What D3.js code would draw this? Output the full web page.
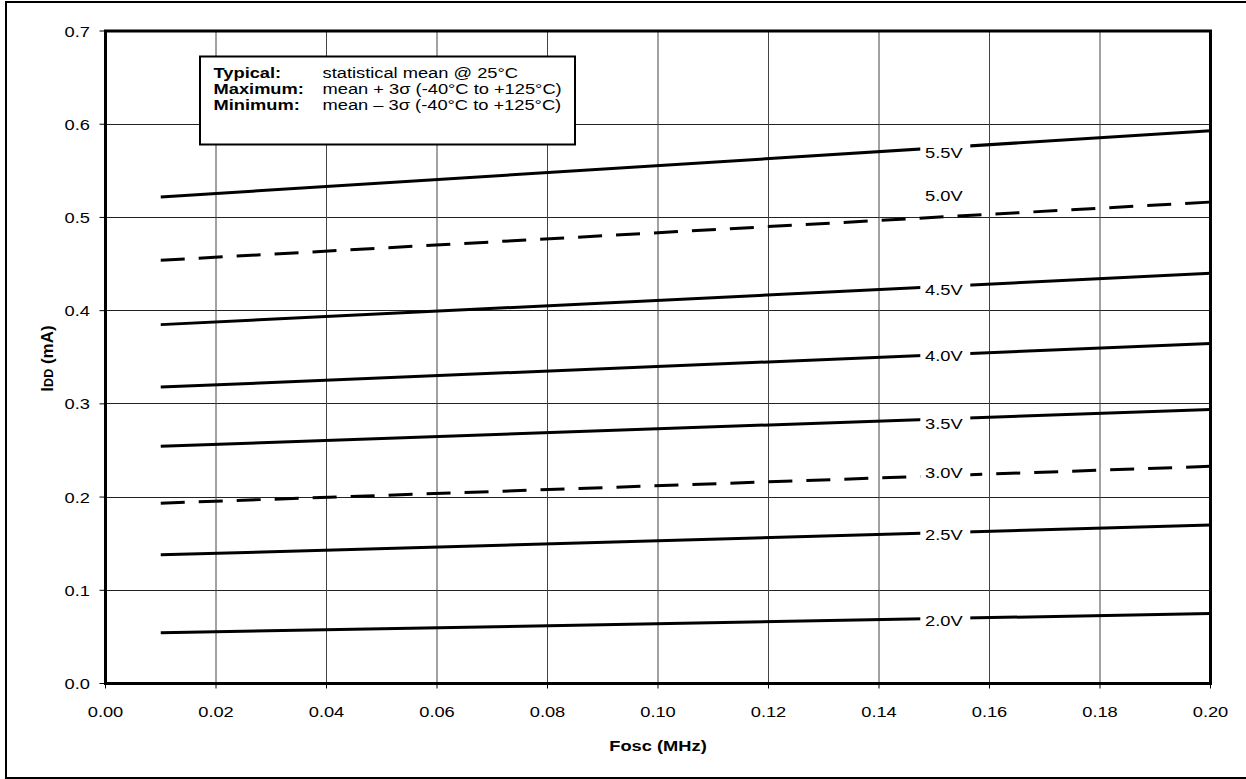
<!DOCTYPE html>
<html>
<head>
<meta charset="utf-8">
<script src="https://cdn.jsdelivr.net/npm/d3@7"></script>
<style>
  html, body { margin: 0; padding: 0; background: #fff; }
  svg { display: block; }
  text { font-family: "Liberation Sans", Arial, Helvetica, sans-serif; fill: #000; }
</style>
</head>
<body>
<svg id="chart" width="1246" height="779"></svg>
<script>
// ---- data ----
const voltages = ["5.5V", "5.0V", "4.5V", "4.0V", "3.5V", "3.0V", "2.5V", "2.0V"];
const freqs = [0.01, 0.20];                       // MHz
const idd55 = [0.522, 0.593];
const idd50 = [0.454, 0.5165];
const idd45 = [0.385, 0.440];
const idd40 = [0.318, 0.3647];
const idd35 = [0.2545, 0.294];
const idd30 = [0.1935, 0.233];
const idd25 = [0.138, 0.170];
const idd20 = [0.0544, 0.075];
const dashedSeries = ["5.0V", "3.0V"];
const xTicks = [0.00, 0.02, 0.04, 0.06, 0.08, 0.10, 0.12, 0.14, 0.16, 0.18, 0.20];
const yTicks = [0.0, 0.1, 0.2, 0.3, 0.4, 0.5, 0.6, 0.7];
const legendRows = [
  ["Typical:", "statistical mean @ 25\u00B0C"],
  ["Maximum:", "mean + 3\u03C3 (-40\u00B0C to +125\u00B0C)"],
  ["Minimum:", "mean \u2013 3\u03C3 (-40\u00B0C to +125\u00B0C)"]
];
const xTitle = "Fosc (MHz)";
const labelAtX = 0.152;

// ---- layout (not data) ----
const labelDy = { "5.5V": 5, "5.0V": -21, "4.5V": 3, "4.0V": 1, "3.5V": 5, "3.0V": -3, "2.5V": 2, "2.0V": 2 };
const SX = 1.18;  // horizontal stretch of text
const FS = 15.5;

const seriesValues = [idd55, idd50, idd45, idd40, idd35, idd30, idd25, idd20];
const series = voltages.map((v, i) => ({
  name: v,
  dashed: dashedSeries.includes(v),
  points: freqs.map((f, j) => ({ x: f, y: seriesValues[i][j] }))
}));

const svg = d3.select("#chart");
const L = 105.5, R = 1210.5, T = 31, B = 683.5;
const x = d3.scaleLinear().domain([0, 0.2]).range([L, R]);
const y = d3.scaleLinear().domain([0, 0.7]).range([B, T]);

// outer frame
svg.append("rect").attr("x", 6).attr("y", 2).attr("width", 1260).attr("height", 776)
  .attr("fill", "none").attr("stroke", "#000").attr("stroke-width", 2);

function stext(g, px, py, str, anchor, weight, size) {
  return g.append("text")
    .attr("transform", `translate(${px},${py}) scale(${SX},1)`)
    .attr("text-anchor", anchor || "start")
    .attr("font-weight", weight || "normal")
    .attr("font-size", size || FS)
    .text(str);
}

// gridlines
const grid = svg.append("g");
yTicks.filter(t => t > 0 && t < 0.7).forEach(t => {
  grid.append("line").attr("x1", L).attr("x2", R).attr("y1", y(t)).attr("y2", y(t))
    .attr("stroke", "#222").attr("stroke-width", 1).attr("shape-rendering", "crispEdges");
});
xTicks.filter(t => t > 0 && t < 0.2).forEach(t => {
  grid.append("line").attr("x1", x(t)).attr("x2", x(t)).attr("y1", T).attr("y2", B)
    .attr("stroke", "#444").attr("stroke-width", 1);
});

// ticks and tick labels
const axes = svg.append("g");
yTicks.forEach(t => {
  axes.append("line").attr("x1", L - 6).attr("x2", L).attr("y1", y(t)).attr("y2", y(t))
    .attr("stroke", "#000").attr("stroke-width", 1);
  stext(axes, 90, y(t) + 5.5, d3.format(".1f")(t), "end");
});
xTicks.forEach(t => {
  axes.append("line").attr("x1", x(t)).attr("x2", x(t)).attr("y1", B).attr("y2", B + 5)
    .attr("stroke", "#000").attr("stroke-width", 1);
  stext(axes, x(t), 716.5, d3.format(".2f")(t), "middle");
});

// lines
const line = d3.line().x(d => x(d.x)).y(d => y(d.y));
const lg = svg.append("g");
series.forEach(s => {
  lg.append("path").attr("d", line(s.points)).attr("fill", "none")
    .attr("stroke", "#000").attr("stroke-width", 3)
    .attr("stroke-dasharray", s.dashed ? "24,14" : null);
});

// series labels
const labG = svg.append("g");
series.forEach(s => {
  const p0 = s.points[0], p1 = s.points[s.points.length - 1];
  const v = p0.y + (p1.y - p0.y) * (labelAtX - p0.x) / (p1.x - p0.x);
  const cx = x(labelAtX), cy = y(v) + labelDy[s.name];
  labG.append("rect").attr("x", cx - 25).attr("y", cy - 9).attr("width", 50).attr("height", 18)
    .attr("fill", "#fff");
  stext(labG, cx - 1.5, cy + 5.5, s.name, "middle");
});

// plot border
svg.append("rect").attr("x", L).attr("y", T).attr("width", R - L).attr("height", B - T)
  .attr("fill", "none").attr("stroke", "#000").attr("stroke-width", 3);

// legend box
const leg = svg.append("g");
leg.append("rect").attr("x", 200).attr("y", 56.5).attr("width", 375).attr("height", 88)
  .attr("fill", "#fff").attr("stroke", "#000").attr("stroke-width", 2);
legendRows.forEach((r, i) => {
  stext(leg, 213.5, 77.5 + i * 16, r[0], "start", "bold");
  stext(leg, 322.5, 77.5 + i * 16, r[1], "start", "normal");
});

// axis titles
stext(svg, 658, 751, xTitle, "middle", "bold");
const yt = svg.append("text")
  .attr("transform", "translate(53,358.5) rotate(-90)")
  .attr("text-anchor", "middle").attr("font-weight", "bold").attr("font-size", 17);
yt.append("tspan").text("I");
yt.append("tspan").attr("font-size", 12.5).text("DD");
yt.append("tspan").text(" (mA)");
</script>
</body>
</html>
